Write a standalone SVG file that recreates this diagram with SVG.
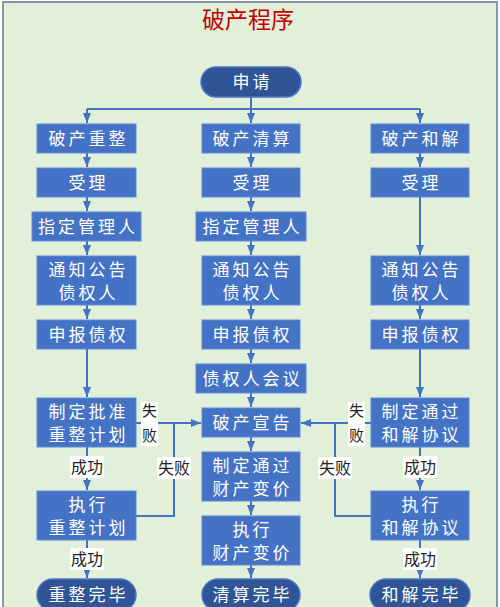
<svg xmlns="http://www.w3.org/2000/svg" width="500" height="607" viewBox="0 0 500 607">
<defs>
<marker id="ah" markerWidth="10" markerHeight="8" refX="10" refY="4" orient="auto" markerUnits="userSpaceOnUse">
<path d="M0,0 L10,4 L0,8 Z" fill="#4472c4"/>
</marker>
<style>
.box{fill:#4472c4;stroke:#5b8bd8;stroke-width:1}
.pill{fill:#2f5597;stroke:#4a77c9;stroke-width:1.5}
.t{fill:#fff;font-family:"Noto Sans CJK SC",sans-serif;font-size:17px;letter-spacing:3px;text-anchor:middle}
.ln{fill:none;stroke:#4472c4;stroke-width:2}
.ar{fill:none;stroke:#4472c4;stroke-width:2;marker-end:url(#ah)}
.lb{fill:#fff}
.lt{fill:#222;font-family:"Noto Sans CJK SC",sans-serif;font-size:16px;text-anchor:middle}
.ls{fill:#222;font-family:"Noto Sans CJK SC",sans-serif;font-size:15px;text-anchor:middle}
</style>
</defs>
<rect x="0" y="0" width="500" height="607" fill="#ffffff"/>
<rect x="3" y="2" width="494" height="610" fill="#e2efd9" stroke="#8497b0" stroke-width="2"/>
<text x="248" y="28" font-family="'Noto Sans CJK SC',sans-serif" font-size="23" fill="#c00000" text-anchor="middle">破产程序</text>

<g id="connectors">
<path class="ln" d="M251,97 V109 M87,109 H420"/>
<path class="ar" d="M87,109 V123"/>
<path class="ar" d="M251,109 V123"/>
<path class="ar" d="M420,109 V123"/>
<path class="ar" d="M87,153 V167"/>
<path class="ar" d="M87,197 V211"/>
<path class="ar" d="M87,241 V255"/>
<path class="ar" d="M87,305 V319"/>
<path class="ar" d="M87,349 V397"/>
<path class="ar" d="M87,447 V490"/>
<path class="ar" d="M87,540 V578"/>
<path class="ar" d="M251,153 V167"/>
<path class="ar" d="M251,197 V211"/>
<path class="ar" d="M251,241 V255"/>
<path class="ar" d="M251,305 V319"/>
<path class="ar" d="M251,349 V363"/>
<path class="ar" d="M251,393 V407"/>
<path class="ar" d="M251,437 V451"/>
<path class="ar" d="M251,501 V515"/>
<path class="ar" d="M251,565 V578"/>
<path class="ar" d="M420,153 V167"/>
<path class="ar" d="M420,197 V255"/>
<path class="ar" d="M420,305 V319"/>
<path class="ar" d="M420,349 V397"/>
<path class="ar" d="M420,447 V490"/>
<path class="ar" d="M420,540 V578"/>
<path class="ar" d="M136,423 H201"/>
<path class="ln" d="M136,516 H174 V423"/>
<path class="ar" d="M371,423 H301"/>
<path class="ln" d="M371,516 H335 V423"/>
</g>

<g id="labels">
<rect class="lb" x="141" y="402" width="17" height="44"/>
<text class="ls" x="149.5" y="416">失</text>
<text class="ls" x="149.5" y="441">败</text>
<rect class="lb" x="157" y="457" width="34" height="22"/>
<text class="lt" x="174" y="474">失败</text>
<rect class="lb" x="70" y="456" width="34" height="22"/>
<text class="lt" x="87" y="473">成功</text>
<rect class="lb" x="70" y="548" width="34" height="22"/>
<text class="lt" x="87" y="565">成功</text>
<rect class="lb" x="348" y="402" width="17" height="44"/>
<text class="ls" x="356.5" y="416">失</text>
<text class="ls" x="356.5" y="441">败</text>
<rect class="lb" x="318" y="457" width="34" height="22"/>
<text class="lt" x="335" y="474">失败</text>
<rect class="lb" x="403" y="456" width="34" height="22"/>
<text class="lt" x="420" y="473">成功</text>
<rect class="lb" x="403" y="548" width="34" height="22"/>
<text class="lt" x="420" y="565">成功</text>
</g>

<g id="n-shenqing"><rect class="pill" x="201" y="67" width="100" height="30" rx="15"/><text class="t" x="252.5" y="88">申请</text></g>

<g id="n-chongzheng"><rect class="box" x="37" y="124" width="99" height="29"/><text class="t" x="88.5" y="145">破产重整</text></g>
<g id="n-qingsuan"><rect class="box" x="202" y="124" width="98" height="29"/><text class="t" x="252.5" y="145">破产清算</text></g>
<g id="n-hejie"><rect class="box" x="371" y="124" width="98" height="29"/><text class="t" x="421.5" y="145">破产和解</text></g>

<g id="n-shouli-l"><rect class="box" x="37" y="168" width="99" height="29"/><text class="t" x="88.5" y="189">受理</text></g>
<g id="n-shouli-m"><rect class="box" x="202" y="168" width="98" height="29"/><text class="t" x="252.5" y="189">受理</text></g>
<g id="n-shouli-r"><rect class="box" x="371" y="168" width="98" height="29"/><text class="t" x="421.5" y="189">受理</text></g>

<g id="n-guanli-l"><rect class="box" x="32" y="212" width="109" height="29"/><text class="t" x="88" y="233">指定管理人</text></g>
<g id="n-guanli-m"><rect class="box" x="196" y="212" width="110" height="29"/><text class="t" x="252.5" y="233">指定管理人</text></g>

<g id="n-tongzhi-l"><rect class="box" x="37" y="256" width="99" height="49"/><text class="t" x="88.5" y="276">通知公告</text><text class="t" x="88.5" y="299">债权人</text></g>
<g id="n-tongzhi-m"><rect class="box" x="202" y="256" width="98" height="49"/><text class="t" x="252.5" y="276">通知公告</text><text class="t" x="252.5" y="299">债权人</text></g>
<g id="n-tongzhi-r"><rect class="box" x="371" y="256" width="98" height="49"/><text class="t" x="421.5" y="276">通知公告</text><text class="t" x="421.5" y="299">债权人</text></g>

<g id="n-shenbao-l"><rect class="box" x="37" y="320" width="99" height="29"/><text class="t" x="88.5" y="341">申报债权</text></g>
<g id="n-shenbao-m"><rect class="box" x="202" y="320" width="98" height="29"/><text class="t" x="252.5" y="341">申报债权</text></g>
<g id="n-shenbao-r"><rect class="box" x="371" y="320" width="98" height="29"/><text class="t" x="421.5" y="341">申报债权</text></g>

<g id="n-huiyi"><rect class="box" x="196" y="364" width="110" height="29"/><text class="t" x="252.5" y="385">债权人会议</text></g>

<g id="n-pizhun"><rect class="box" x="37" y="398" width="99" height="49"/><text class="t" x="88.5" y="418">制定批准</text><text class="t" x="88.5" y="441">重整计划</text></g>
<g id="n-xuangao"><rect class="box" x="202" y="408" width="98" height="29"/><text class="t" x="252.5" y="429">破产宣告</text></g>
<g id="n-hejiexieyi"><rect class="box" x="371" y="398" width="98" height="49"/><text class="t" x="421.5" y="418">制定通过</text><text class="t" x="421.5" y="441">和解协议</text></g>

<g id="n-biangjia"><rect class="box" x="202" y="452" width="98" height="49"/><text class="t" x="252.5" y="472">制定通过</text><text class="t" x="252.5" y="495">财产变价</text></g>

<g id="n-zhixing-l"><rect class="box" x="37" y="491" width="99" height="49"/><text class="t" x="88.5" y="511">执行</text><text class="t" x="88.5" y="534">重整计划</text></g>
<g id="n-zhixing-m"><rect class="box" x="202" y="516" width="98" height="49"/><text class="t" x="252.5" y="536">执行</text><text class="t" x="252.5" y="559">财产变价</text></g>
<g id="n-zhixing-r"><rect class="box" x="371" y="491" width="98" height="49"/><text class="t" x="421.5" y="511">执行</text><text class="t" x="421.5" y="534">和解协议</text></g>

<g id="n-wanbi-l"><rect class="pill" x="37" y="579" width="99" height="32" rx="16"/><text class="t" x="88.5" y="601">重整完毕</text></g>
<g id="n-wanbi-m"><rect class="pill" x="202" y="579" width="98" height="32" rx="16"/><text class="t" x="252.5" y="601">清算完毕</text></g>
<g id="n-wanbi-r"><rect class="pill" x="370" y="579" width="100" height="32" rx="16"/><text class="t" x="421.5" y="601">和解完毕</text></g>
</svg>
